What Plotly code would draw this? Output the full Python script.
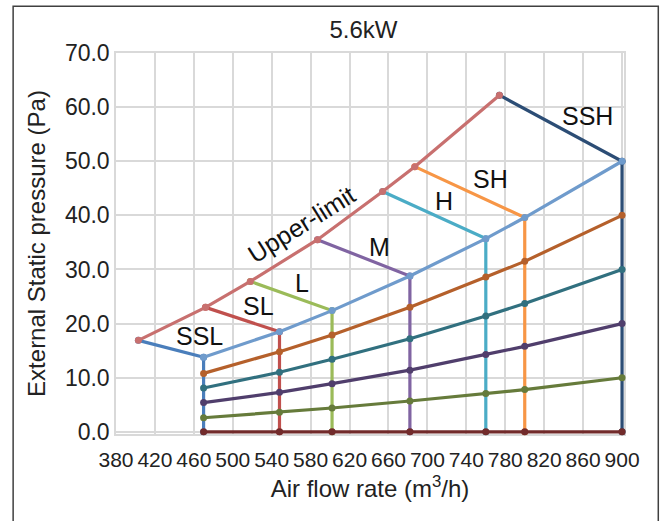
import plotly.graph_objects as go

# ---- data ----
airflow = [470, 548, 602, 682, 760, 800, 900]          # step air flow (m3/h)
esp_max = [13.8, 18.5, 22.4, 28.8, 35.7, 39.6, 50.0]   # top curve
esp_a = [10.8, 14.8, 17.9, 23.0, 28.6, 31.5, 40.0]
esp_b = [8.1, 11.0, 13.4, 17.2, 21.4, 23.7, 30.0]
esp_c = [5.4, 7.3, 8.9, 11.4, 14.3, 15.8, 20.0]
esp_d = [2.6, 3.6, 4.4, 5.7, 7.1, 7.8, 10.0]
esp_0 = [0, 0, 0, 0, 0, 0, 0]

upper_x = [403, 472, 518, 587, 654, 687, 774]
upper_y = [16.9, 23.0, 27.8, 35.5, 44.4, 49.0, 62.2]

steps = ['SSL', 'SL', 'L', 'M', 'H', 'SH', 'SSH']
step_colors = ['#4a7ebb', '#c0504d', '#9bbb59', '#8064a2', '#4bacc6', '#f79646', '#2c4d75']

# label positions (data units)
label_x = [466, 526, 571, 651, 717, 765, 864]
label_y = [17.7, 23.3, 27.5, 34.2, 42.6, 46.8, 58.3]

FONT = 'Liberation Sans, Arial, sans-serif'

fig = go.Figure()

# step lines: upper-limit point -> top curve -> down to zero
for i, name in enumerate(steps):
    fig.add_trace(go.Scatter(
        x=[upper_x[i], airflow[i], airflow[i]],
        y=[upper_y[i], esp_max[i], esp_0[i]],
        mode='lines+markers',
        line=dict(color=step_colors[i], width=3.2),
        marker=dict(size=7, color=step_colors[i]),
        cliponaxis=False,
        showlegend=False
    ))

# ESP curves
curves = [
    (esp_d, '#667b3b'),
    (esp_c, '#503e6c'),
    (esp_b, '#31707f'),
    (esp_a, '#b5602b'),
    (esp_0, '#722b2b'),
]
for ys, c in curves:
    fig.add_trace(go.Scatter(
        x=airflow, y=ys,
        mode='lines+markers',
        line=dict(color=c, width=3.2),
        marker=dict(size=7, color=c),
        cliponaxis=False,
        showlegend=False
    ))

fig.add_trace(go.Scatter(
    x=airflow, y=esp_max,
    mode='lines+markers',
    line=dict(color='#6f9bcc', width=3.2),
    marker=dict(size=7, color='#6f9bcc'),
    cliponaxis=False,
    showlegend=False
))

# upper limit
fig.add_trace(go.Scatter(
    x=upper_x, y=upper_y,
    mode='lines+markers',
    line=dict(color='#c8706f', width=3.2),
    marker=dict(size=7, color='#c8706f'),
    cliponaxis=False,
    showlegend=False
))

for i, name in enumerate(steps):
    fig.add_annotation(x=label_x[i], y=label_y[i], text=name, showarrow=False,
                       font=dict(size=25, color='#111111', family=FONT))

fig.add_annotation(x=571, y=38.4, text='Upper-limit', showarrow=False, textangle=-32,
                   font=dict(size=25, color='#111111', family=FONT))

# outer frame
fig.add_shape(type='rect', xref='paper', yref='paper',
              x0=-0.2025, x1=1.0675, y0=-0.2343, y1=1.1225,
              line=dict(color='#404040', width=1.5))

fig.update_layout(
    width=667, height=521,
    margin=dict(l=116, r=43, t=53, b=87),
    paper_bgcolor='white',
    plot_bgcolor='white',
    font=dict(family=FONT, color='#222222'),
    title=dict(text='5.6kW', x=0.487, xref='paper', xanchor='center',
               y=1 - 30 / 521, yanchor='middle',
               font=dict(size=24, color='#222222', family=FONT)),
    showlegend=False
)

fig.update_xaxes(
    range=[380, 902], dtick=40, tick0=380,
    showgrid=True, gridcolor='#d9d9d9', gridwidth=1.5,
    showline=True, linecolor='#d9d9d9', linewidth=1.5, mirror=True,
    layer='below traces',
    zeroline=False, ticks='', ticklabelstandoff=6,
    tickfont=dict(size=21, color='#222222'),
    title=dict(text='Air flow rate (m<sup>3</sup>/h)', font=dict(size=24, color='#222222'), standoff=10)
)
fig.update_yaxes(
    range=[-0.4, 70], dtick=10, tick0=0, tickformat='.1f',
    showgrid=True, gridcolor='#d9d9d9', gridwidth=1.5,
    showline=True, linecolor='#d9d9d9', linewidth=1.5, mirror=True,
    layer='below traces',
    zeroline=False, ticks='',
    tickfont=dict(size=23, color='#222222'),
    title=dict(text='External Static pressure (Pa)', font=dict(size=24, color='#222222'), standoff=12)
)

fig.write_html('out.html', config={'displayModeBar': False},
               post_script="document.body.style.margin='0';")
